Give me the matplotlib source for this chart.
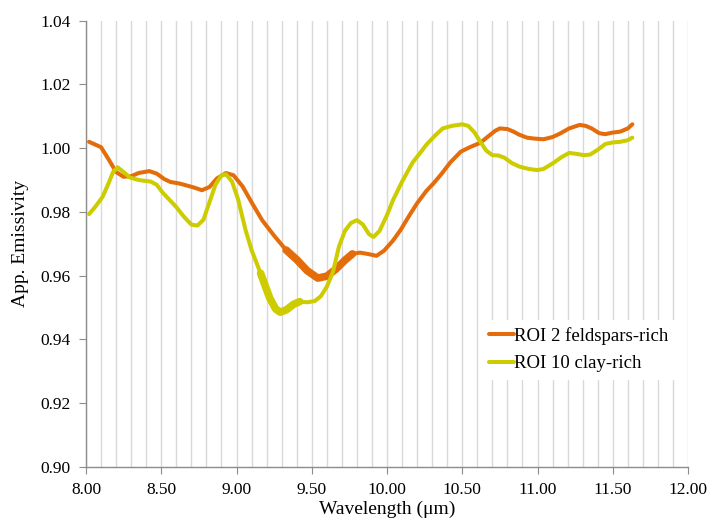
import numpy as np
import matplotlib
matplotlib.use('Agg')
from matplotlib import pyplot as plt
from matplotlib.ticker import MultipleLocator, FormatStrFormatter

# ROI 2 (feldspars-rich) spectrum
wl_roi2 = [8.02, 8.10, 8.15, 8.20, 8.25, 8.30, 8.35, 8.42, 8.47, 8.52,
           8.56, 8.62, 8.66, 8.72, 8.77, 8.82, 8.87, 8.93, 8.98, 9.04,
           9.10, 9.17, 9.25, 9.33, 9.40, 9.47, 9.54, 9.60, 9.66, 9.72,
           9.77, 9.82, 9.87, 9.93, 9.98, 10.04, 10.09, 10.15, 10.20, 10.26,
           10.31, 10.36, 10.42, 10.49, 10.55, 10.62, 10.68, 10.72, 10.75, 10.80,
           10.84, 10.88, 10.93, 10.98, 11.04, 11.10, 11.15, 11.21, 11.28, 11.32,
           11.36, 11.41, 11.45, 11.50, 11.55, 11.60, 11.63]
em_roi2 = [1.0020, 1.0003, 0.9965, 0.9925, 0.9910, 0.9912, 0.9922, 0.9928, 0.9920, 0.9903,
           0.9894, 0.9889, 0.9884, 0.9876, 0.9868, 0.9878, 0.9905, 0.9922, 0.9915, 0.9880,
           0.9830, 0.9774, 0.9725, 0.9680, 0.9650, 0.9615, 0.9592, 0.9598, 0.9620, 0.9648,
           0.9668, 0.9672, 0.9668, 0.9662, 0.9678, 0.9710, 0.9743, 0.9790, 0.9827, 0.9865,
           0.9890, 0.9918, 0.9955, 0.9989, 1.0003, 1.0017, 1.0040, 1.0055, 1.0062, 1.0060,
           1.0052, 1.0042, 1.0033, 1.0030, 1.0028, 1.0035, 1.0046, 1.0062, 1.0073, 1.0070,
           1.0062, 1.0047, 1.0044, 1.0049, 1.0052, 1.0062, 1.0075]

# ROI 10 (clay-rich) spectrum
wl_roi10 = [8.02, 8.06, 8.11, 8.15, 8.18, 8.21, 8.25, 8.29, 8.35, 8.43,
            8.47, 8.51, 8.55, 8.60, 8.65, 8.70, 8.74, 8.78, 8.82, 8.86,
            8.90, 8.93, 8.97, 9.01, 9.06, 9.10, 9.16, 9.22, 9.26, 9.29,
            9.33, 9.38, 9.42, 9.47, 9.52, 9.56, 9.60, 9.64, 9.68, 9.72,
            9.76, 9.80, 9.84, 9.88, 9.91, 9.95, 10.00, 10.04, 10.10, 10.17,
            10.22, 10.26, 10.32, 10.37, 10.43, 10.50, 10.54, 10.58, 10.62, 10.66,
            10.70, 10.74, 10.78, 10.83, 10.88, 10.94, 11.00, 11.04, 11.10, 11.16,
            11.21, 11.26, 11.31, 11.35, 11.40, 11.45, 11.50, 11.55, 11.60, 11.63]
em_roi10 = [0.9793, 0.9815, 0.9847, 0.9890, 0.9925, 0.9940, 0.9925, 0.9908, 0.9900, 0.9895,
            0.9885, 0.9860, 0.9840, 0.9815, 0.9785, 0.9760, 0.9757, 0.9775, 0.9830, 0.9885,
            0.9915, 0.9918, 0.9895, 0.9840, 0.9743, 0.9680, 0.9607, 0.9530, 0.9495, 0.9485,
            0.9492, 0.9510, 0.9518, 0.9516, 0.9520, 0.9535, 0.9565, 0.9610, 0.9690, 0.9740,
            0.9765, 0.9774, 0.9760, 0.9730, 0.9721, 0.9740, 0.9790, 0.9837, 0.9895, 0.9955,
            0.9985, 1.0010, 1.0040, 1.0062, 1.0070, 1.0075, 1.0070, 1.0050, 1.0020, 0.9992,
            0.9978, 0.9977, 0.9970, 0.9953, 0.9942, 0.9935, 0.9931, 0.9935, 0.9952, 0.9972,
            0.9985, 0.9982, 0.9978, 0.9980, 0.9995, 1.0013, 1.0018, 1.0020, 1.0025, 1.0033]

# wavelength ranges where the curves are drawn heavier
heavy_roi2 = (9.32, 9.77)
heavy_roi10 = (9.15, 9.43)

c_roi2 = '#E46C0A'
c_roi10 = '#CCCC00'

serif = ['Liberation Serif', 'DejaVu Serif']
plt.rcParams['font.family'] = serif
plt.rcParams['font.size'] = 12

fig = plt.figure(figsize=(7.08, 5.2), dpi=100)
ax = fig.add_axes([0.1215, 0.1027, 0.8503, 0.8573])

def draw(wl, em, heavy, color, label):
    wl = np.array(wl)
    em = np.array(em)
    ax.plot(wl, em, color=color, lw=2.9, label=label,
            solid_capstyle='round', solid_joinstyle='round', zorder=3)
    m = (wl >= heavy[0]) & (wl <= heavy[1])
    ax.plot(wl[m], em[m], color=color, lw=5.5,
            solid_capstyle='round', solid_joinstyle='round', zorder=3)

draw(wl_roi2, em_roi2, heavy_roi2, c_roi2, 'ROI 2 feldspars-rich')
draw(wl_roi10, em_roi10, heavy_roi10, c_roi10, 'ROI 10 clay-rich')

ax.set_xlim(8.0, 12.0)
ax.set_ylim(0.90, 1.04)
ax.xaxis.set_major_locator(MultipleLocator(0.5))
ax.xaxis.set_minor_locator(MultipleLocator(0.1))
ax.yaxis.set_major_locator(MultipleLocator(0.02))
ax.xaxis.set_major_formatter(FormatStrFormatter('%.2f'))
ax.yaxis.set_major_formatter(FormatStrFormatter('%.2f'))

ax.grid(True, axis='x', which='both', color='#d9d9d9', lw=1.0, zorder=0)
ax.set_axisbelow(True)
for s in ['top', 'right']:
    ax.spines[s].set_visible(False)
for s in ['left', 'bottom']:
    ax.spines[s].set_color('#8c8c8c')
    ax.spines[s].set_linewidth(1.0)
ax.tick_params(which='major', direction='out', length=5, color='#8c8c8c',
               labelsize=12.5, pad=6, labelfontfamily='Liberation Serif')
ax.tick_params(which='minor', length=0)

ax.set_xlabel('Wavelength (\u03bcm)', fontsize=14, labelpad=2)
ax.set_ylabel('App. Emissivity', fontsize=14, labelpad=8)

leg = ax.legend(loc='center left', bbox_to_anchor=(0.642, 0.262), frameon=True,
                fancybox=False, edgecolor='none', facecolor='white', framealpha=1,
                handlelength=1.3, handletextpad=0.0, labelspacing=0.55, fontsize=13.5)
for h in leg.get_lines():
    h.set_linewidth(2.9)

fig.savefig('out.png', dpi=100)
